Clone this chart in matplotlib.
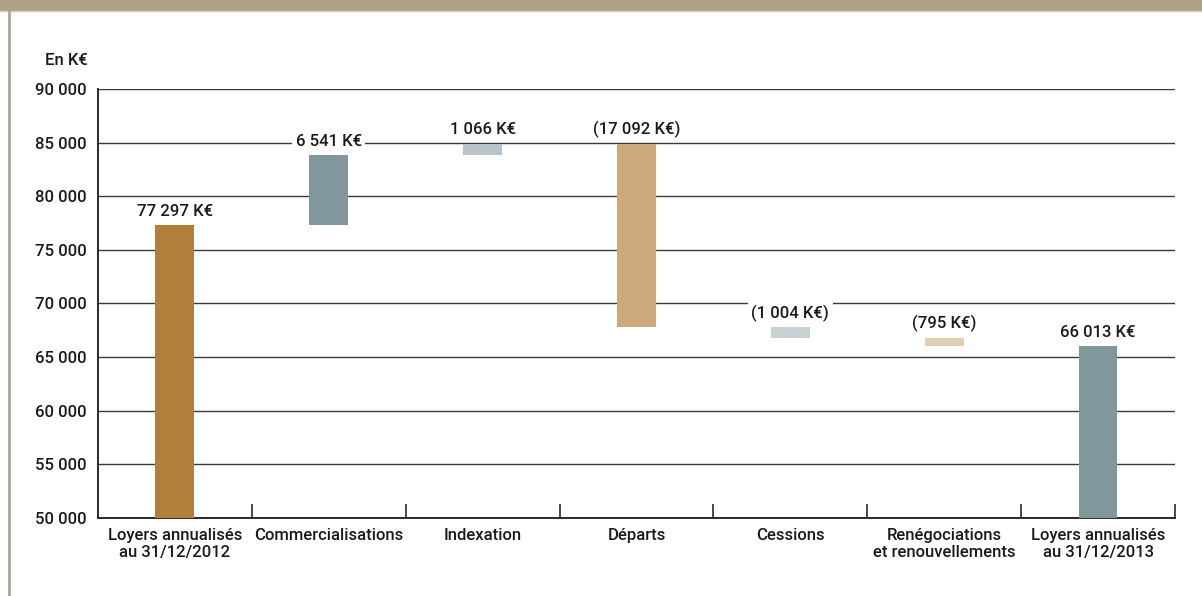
import matplotlib.pyplot as plt
from matplotlib.patches import Rectangle
from matplotlib.lines import Line2D

plt.rcParams['font.family'] = ['Roboto', 'DejaVu Sans']

# data (K€)
categories = ["Loyers annualisés\nau 31/12/2012", "Commercialisations", "Indexation",
              "Départs", "Cessions", "Renégociations\net renouvellements",
              "Loyers annualisés\nau 31/12/2013"]
start_value = 77297
deltas = [6541, 1066, -17092, -1004, -795]
end_value = 66013
value_labels = ["77 297 K€", "6 541 K€", "1 066 K€", "(17 092 K€)",
                "(1 004 K€)", "(795 K€)", "66 013 K€"]
colors = ["#B17F3B", "#82979B", "#B9C2C6", "#CDA97C", "#C9D1D4", "#E3CDB2", "#82979B"]
yticks = [50000, 55000, 60000, 65000, 70000, 75000, 80000, 85000, 90000]

# waterfall bottoms / tops
bottoms, tops = [50000], [start_value]
level = start_value
for d in deltas:
    new = level + d
    bottoms.append(min(level, new))
    tops.append(max(level, new))
    level = new
bottoms.append(50000)
tops.append(end_value)

fig = plt.figure(figsize=(12.02, 5.96), dpi=100)
ax = fig.add_axes([0.0815, 0.1309, 0.9775 - 0.0815, 0.8507 - 0.1309])

x = [i + 0.5 for i in range(len(categories))]
heights = [t - b for t, b in zip(tops, bottoms)]
ax.bar(x, heights, bottom=bottoms, width=0.253, color=colors, zorder=3)

for xi, top, lab in zip(x, tops, value_labels):
    ax.annotate(lab, (xi, top), xytext=(0, 10), textcoords='offset points',
                ha='center', va='center', fontsize=12, fontweight='medium',
                color='#1a1a1a', zorder=4,
                bbox=dict(boxstyle='square,pad=0.2', fc='white', ec='none'))

ax.set_xlim(0, len(categories))
ax.set_ylim(50000, 90000)
ax.set_yticks(yticks)
ax.set_yticklabels([f"{v:,}".replace(",", " ") for v in yticks],
                   fontsize=12, fontweight='medium', color='#1a1a1a')
ax.tick_params(axis='y', length=0, pad=8)

for v in yticks[1:]:
    ax.axhline(v, color='#3a3a3a', lw=1.0, zorder=1)

ax.set_xticks(x)
ax.set_xticklabels(categories, fontsize=12, fontweight='medium', color='#1a1a1a',
                   linespacing=1.2)
ax.tick_params(axis='x', length=0, pad=7)
ax.set_xticks(range(1, len(categories) + 1), minor=True)
ax.tick_params(axis='x', which='minor', direction='in', length=10, width=1.2,
               color='#2a2a2a')

for s in ['top', 'right']:
    ax.spines[s].set_visible(False)
for s in ['left', 'bottom']:
    ax.spines[s].set_color('#2a2a2a')
    ax.spines[s].set_linewidth(1.4)

fig.text(0.0375, 0.899, "En K€", fontsize=12, fontweight='medium', color='#1a1a1a',
         va='center')

# frame decoration: top banner and left border
fig.add_artist(Rectangle((0, 1 - 10 / 596), 1, 10 / 596, transform=fig.transFigure,
                         color='#ADA285', zorder=0))
fig.add_artist(Line2D([0, 1], [1 - 11 / 596] * 2, transform=fig.transFigure,
                      color='#D6CFBC', lw=1))
fig.add_artist(Line2D([8.5 / 1202] * 2, [0, 1 - 10 / 596], transform=fig.transFigure,
                      color='#B0A88E', lw=2))

fig.savefig("out.png", dpi=100)
